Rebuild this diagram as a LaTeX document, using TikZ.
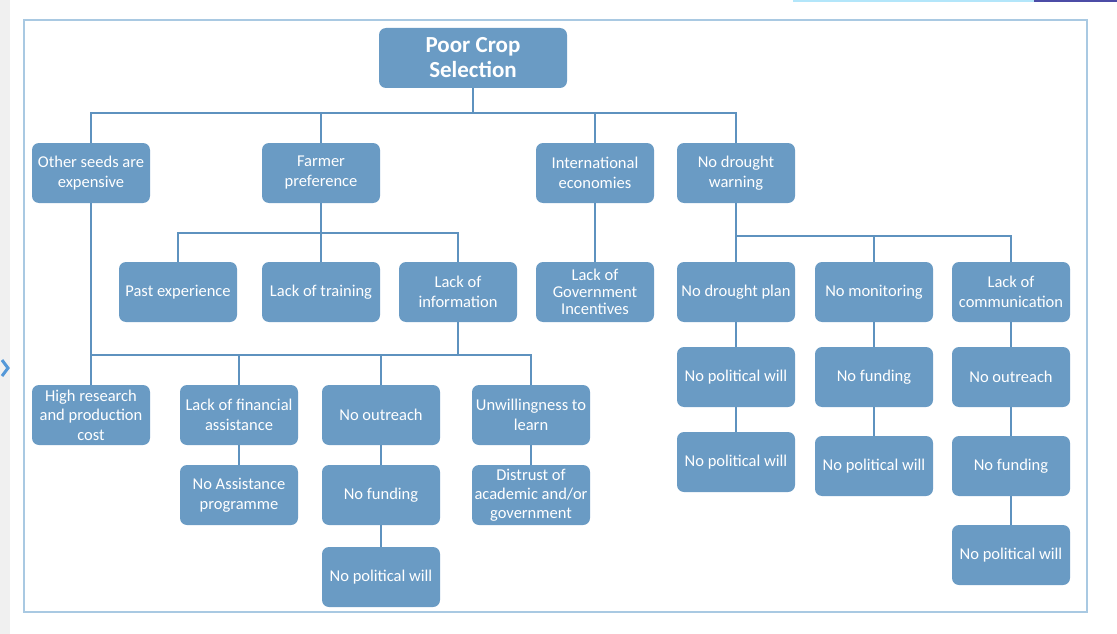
\documentclass[tikz,border=0pt]{standalone}
\usepackage{fontspec}
\setmainfont{Carlito}
\definecolor{boxblue}{HTML}{6A9BC4}
\definecolor{lineblue}{HTML}{5E92BF}
\definecolor{frameblue}{HTML}{A9C9E2}

\begin{document}
\begin{tikzpicture}[x=1pt, y=-1pt,
    box/.style={fill=boxblue, rounded corners=7pt, text=white, align=center,
        minimum width=118pt, minimum height=60pt, inner sep=2pt,
        font=\fontsize{16.5}{20}\selectfont},
    link/.style={draw=lineblue, line width=2.4pt}]

\useasboundingbox (0,0) rectangle (1117,634);

%%%%%%%%%%%%%%%%%%%%%%%%%%%%%%%%%%%%%%%%%%%%%%%%%%%%%%%%%%%%%%%%
% Page and frame
%%%%%%%%%%%%%%%%%%%%%%%%%%%%%%%%%%%%%%%%%%%%%%%%%%%%%%%%%%%%%%%%

\fill [gray!12] (0,0) rectangle (10,634);
\draw [line width=3pt, color=cyan!60!blue!70] (2,360) -- (8,368) -- (2,376);
\draw [line width=2pt, color=cyan!30] (793,1) to (1034,1);
\draw [line width=2pt, color=blue!50!black!70] (1034,1) to (1117,1);

\draw [frameblue, line width=1.6pt] (24,20) rectangle (1087,612);

%%%%%%%%%%%%%%%%%%%%%%%%%%%%%%%%%%%%%%%%%%%%%%%%%%%%%%%%%%%%%%%%
% Boxes
%%%%%%%%%%%%%%%%%%%%%%%%%%%%%%%%%%%%%%%%%%%%%%%%%%%%%%%%%%%%%%%%

% Root
\node [box, minimum width=188pt, font=\bfseries\fontsize{23}{25}\selectfont] (root) at (473,58) {Poor Crop\\Selection};

% First level
\node [box] (seeds) at (91,173) {Other seeds are\\expensive};
\node [box] (farmer) at (321,173) {Farmer\\preference};
\node [box] (intl) at (595,173) {International\\economies};
\node [box] (warn) at (736,173) {No drought\\warning};

% Second level
\node [box] (past) at (178,292) {Past experience};
\node [box] (training) at (321,292) {Lack of training};
\node [box] (info) at (458,292) {Lack of\\information};
\node [box, font=\fontsize{16.5}{17}\selectfont] (incent) at (595,292) {Lack of\\Government\\Incentives};
\node [box] (plan) at (736,292) {No drought plan};
\node [box] (monitor) at (874,292) {No monitoring};
\node [box] (comm) at (1011,292) {Lack of\\communication};

% Under lack of information
\node [box, font=\fontsize{16.5}{19.5}\selectfont] (cost) at (91,415) {High research\\and production\\cost};
\node [box] (finance) at (239,415) {Lack of financial\\assistance};
\node [box] (outreach) at (381,415) {No outreach};
\node [box] (unwill) at (531,415) {Unwillingness to\\learn};

\node [box] (assist) at (239,495) {No Assistance\\programme};
\node [box] (funding) at (381,495) {No funding};
\node [box, font=\fontsize{16.5}{19}\selectfont] (distrust) at (531,495) {Distrust of\\academic and/or\\government};

\node [box] (will) at (381,577) {No political will};

% Under no drought warning
\node [box] (planwill) at (736,377) {No political will};
\node [box] (planwill2) at (736,462) {No political will};

\node [box] (monfund) at (874,377) {No funding};
\node [box] (monwill) at (874,466) {No political will};

\node [box] (commout) at (1011,377) {No outreach};
\node [box] (commfund) at (1011,466) {No funding};
\node [box] (commwill) at (1011,555) {No political will};

%%%%%%%%%%%%%%%%%%%%%%%%%%%%%%%%%%%%%%%%%%%%%%%%%%%%%%%%%%%%%%%%
% Connectors
%%%%%%%%%%%%%%%%%%%%%%%%%%%%%%%%%%%%%%%%%%%%%%%%%%%%%%%%%%%%%%%%

\coordinate (topbus) at (0,113);
\coordinate (farmbus) at (0,233);
\coordinate (warnbus) at (0,236);
\coordinate (infobus) at (0,355);

% Root to first level
\draw [link] (root.south) -- (root.south |- topbus);
\draw [link] (seeds.north) |- (warn.north |- topbus) -- (warn.north);
\draw [link] (farmer.north) -- (farmer.north |- topbus);
\draw [link] (intl.north) -- (intl.north |- topbus);

% Farmer preference
\draw [link] (farmer.south) -- (training.north);
\draw [link] (past.north) |- (info.north |- farmbus) -- (info.north);

% International economies
\draw [link] (intl.south) -- (incent.north);

% No drought warning
\draw [link] (warn.south) -- (plan.north);
\draw [link] (plan.north |- warnbus) -| (comm.north);
\draw [link] (monitor.north) -- (monitor.north |- warnbus);

\draw [link] (plan.south) -- (planwill.north);
\draw [link] (planwill.south) -- (planwill2.north);
\draw [link] (monitor.south) -- (monfund.north);
\draw [link] (monfund.south) -- (monwill.north);
\draw [link] (comm.south) -- (commout.north);
\draw [link] (commout.south) -- (commfund.north);
\draw [link] (commfund.south) -- (commwill.north);

% Seeds and lack of information
\draw [link] (seeds.south) -- (cost.north);
\draw [link] (info.south) -- (info.south |- infobus);
\draw [link] (seeds.south |- infobus) -| (unwill.north);
\draw [link] (finance.north) -- (finance.north |- infobus);
\draw [link] (outreach.north) -- (outreach.north |- infobus);

\draw [link] (finance.south) -- (assist.north);
\draw [link] (outreach.south) -- (funding.north);
\draw [link] (funding.south) -- (will.north);
\draw [link] (unwill.south) -- (distrust.north);
\end{tikzpicture}
\end{document}
